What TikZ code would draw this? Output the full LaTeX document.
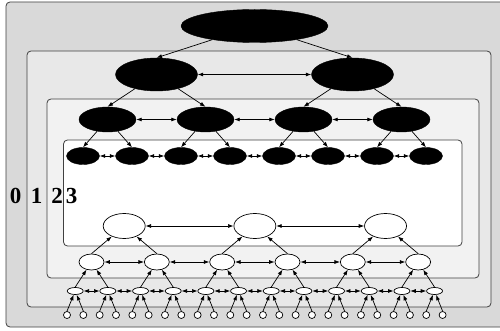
\documentclass[tikz,border=0pt]{standalone}
\usepackage{fontspec}
\setmainfont{Liberation Serif}
\usetikzlibrary{arrows.meta, shapes.geometric}

\begin{document}
\begin{tikzpicture}[x=1pt,y=-1pt,>={Latex[length=5.5pt,width=4pt]}]
   \tikzstyle{frame}=[draw=black!75,rounded corners=4pt,line width=0.8pt]
   \tikzstyle{dark}=[ellipse,fill=black,draw=black,inner sep=0pt]
   \tikzstyle{light}=[ellipse,fill=white,draw=black,inner sep=0pt,line width=0.7pt]
   \tikzstyle{edge}=[line width=0.7pt,->]
   \tikzstyle{link}=[line width=0.7pt,<->]
   \tikzstyle{level}=[font=\fontsize{23}{23}\selectfont\bfseries,inner sep=0pt]

   \useasboundingbox (0,0) rectangle (500,331);
   \fill[white] (0,0) rectangle (500,331);

   % nested frames
   \draw[frame,fill=black!15] (6,2) rectangle (512,327);
   \draw[frame,fill=black!9] (27,51) rectangle (491,307);
   \draw[frame,fill=black!5] (47,99) rectangle (479,278);
   \draw[frame,fill=white] (63.5,140) rectangle (462,246);

   \node[level] (n0) at (15.5,196) {0};
   \node[level] (n1) at (36.5,196) {1};
   \node[level] (n2) at (57.2,196) {2};
   \node[level] (n3) at (71.7,196) {3};

   % upper tree
   \node[dark,minimum width=147pt,minimum height=33pt] (r) at (254.5,26) {};
   \foreach \i in {1,2}
      \node[dark,minimum width=82pt,minimum height=33pt] (a\i) at ({156.5+196*(\i-1)},74.5) {};
   \foreach \i in {1,...,4}
      \node[dark,minimum width=57pt,minimum height=25pt] (b\i) at ({107.5+98*(\i-1)},119.5) {};
   \foreach \i in {1,...,8}
      \node[dark,minimum width=33pt,minimum height=17pt] (c\i) at ({83+49*(\i-1)},156) {};

   % lower tree
   \foreach \i in {1,...,3}
      \node[light,minimum width=42pt,minimum height=25pt] (d\i) at ({124.2+130.67*(\i-1)},226) {};
   \foreach \i in {1,...,6}
      \node[light,minimum width=25pt,minimum height=16pt] (e\i) at ({91.5+65.33*(\i-1)},262) {};
   \foreach \i in {1,...,12}
      \node[light,minimum width=16pt,minimum height=7pt] (f\i) at ({75.2+32.67*(\i-1)},291) {};
   \foreach \i in {1,...,24}
      \node[light,circle,minimum size=7pt] (g\i) at ({67+16.33*(\i-1)},315) {};

   % downward edges
   \foreach \i in {1,2}
      \draw[edge] (r) -- (a\i.north);
   \foreach \i in {1,...,4}{
      \pgfmathtruncatemacro\p{(\i+1)/2}
      \draw[edge] (a\p) -- (b\i.north);}
   \foreach \i in {1,...,8}{
      \pgfmathtruncatemacro\p{(\i+1)/2}
      \draw[edge] (b\p) -- (c\i.north);}

   % upward edges
   \foreach \i in {1,...,6}{
      \pgfmathtruncatemacro\p{(\i+1)/2}
      \draw[edge] (e\i.north) -- (d\p);}
   \foreach \i in {1,...,12}{
      \pgfmathtruncatemacro\p{(\i+1)/2}
      \draw[edge] (f\i.north) -- (e\p);}
   \foreach \i in {1,...,24}{
      \pgfmathtruncatemacro\p{(\i+1)/2}
      \draw[edge] (g\i.north) -- (f\p);}

   % side links
   \draw[link] (a1) -- (a2);
   \foreach \i in {1,...,3}{
      \pgfmathtruncatemacro\j{\i+1}
      \draw[link] (b\i) -- (b\j);}
   \foreach \i in {1,...,7}{
      \pgfmathtruncatemacro\j{\i+1}
      \draw[link] (c\i) -- (c\j);}
   \foreach \i in {1,2}{
      \pgfmathtruncatemacro\j{\i+1}
      \draw[link] (d\i) -- (d\j);}
   \foreach \i in {1,...,5}{
      \pgfmathtruncatemacro\j{\i+1}
      \draw[link] (e\i) -- (e\j);}
   \foreach \i in {1,...,11}{
      \pgfmathtruncatemacro\j{\i+1}
      \draw[link] (f\i) -- (f\j);}
\end{tikzpicture}
\end{document}
